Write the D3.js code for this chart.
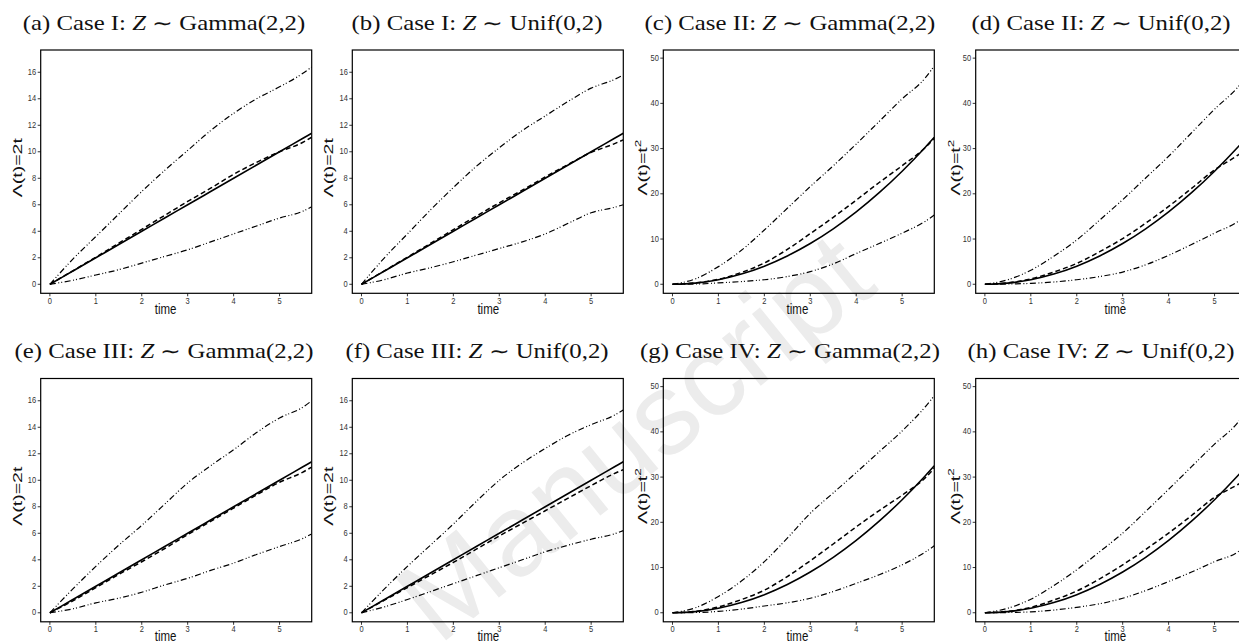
<!DOCTYPE html>
<html lang="en">
<head>
<meta charset="UTF-8">
<title>Cumulative baseline hazard estimates</title>
<script src="https://d3js.org/d3.v7.min.js"></script>
<style>
  body { margin: 0; background: #fff; }
  svg { display: block; }
</style>
</head>
<body>
<svg width="1239" height="644"></svg>
<script>
// time grid used for every curve
const times = [0, 0.5, 1, 1.5, 2, 2.5, 3, 3.5, 4, 4.5, 5, 5.5, 5.7];

// true cumulative hazards
const trueLinear = [0, 1, 2, 3, 4, 5, 6, 7, 8, 9, 10, 11, 11.4];
const trueSquare = [0, 0.25, 1, 2.25, 4, 6.25, 9, 12.25, 16, 20.25, 25, 30.25, 32.49];

// (a) Case I, Gamma
const estA = [0, 1.02, 2.05, 3.1, 4.15, 5.2, 6.25, 7.25, 8.3, 9.2, 10.0, 10.7, 11.1];
const upA  = [0, 1.9, 3.6, 5.3, 7.0, 8.6, 10.1, 11.6, 12.9, 14.0, 14.9, 15.9, 16.4];
const loA  = [0, 0.3, 0.7, 1.1, 1.6, 2.1, 2.6, 3.2, 3.8, 4.4, 5.0, 5.5, 5.85];
// (b) Case I, Unif
const estB = [0, 1.02, 2.05, 3.08, 4.12, 5.15, 6.15, 7.1, 8.1, 9.05, 9.95, 10.6, 10.9];
const upB  = [0, 2.0, 3.8, 5.6, 7.3, 8.9, 10.3, 11.6, 12.7, 13.8, 14.8, 15.45, 15.8];
const loB  = [0, 0.35, 0.85, 1.25, 1.7, 2.2, 2.7, 3.2, 3.8, 4.6, 5.4, 5.8, 6.0];
// (c) Case II, Gamma
const estC = [0, 0.3, 1.1, 2.6, 4.7, 7.7, 11.2, 14.8, 18.6, 22.5, 26.2, 30.2, 32.3];
const upC  = [0, 1.2, 3.9, 7.5, 12.0, 16.8, 21.6, 26.2, 31.0, 36.0, 41.0, 45.6, 48.3];
const loC  = [0, 0.05, 0.3, 0.6, 1.0, 1.7, 2.8, 4.5, 6.8, 9.0, 11.3, 13.9, 15.3];
// (d) Case II, Unif
const estD = [0, 0.3, 1.2, 2.7, 4.6, 7.2, 10.1, 13.5, 17.2, 21.2, 25.3, 28.5, 30.0];
const upD  = [0, 1.0, 3.1, 6.2, 9.8, 14.2, 18.7, 23.5, 28.3, 33.5, 38.7, 43.5, 46.0];
const loD  = [0, 0.05, 0.2, 0.5, 1.0, 1.7, 2.7, 4.3, 6.4, 8.8, 11.3, 13.8, 15.3];
// (e) Case III, Gamma
const estE = [0, 0.9, 1.9, 2.9, 3.85, 4.85, 5.9, 6.9, 7.9, 8.9, 9.85, 10.6, 11.0];
const upE  = [0, 1.8, 3.5, 5.1, 6.6, 8.2, 9.8, 11.1, 12.3, 13.6, 14.7, 15.5, 16.0];
const loE  = [0, 0.3, 0.75, 1.1, 1.55, 2.1, 2.6, 3.2, 3.75, 4.4, 5.0, 5.6, 5.95];
// (f) Case III, Unif
const estF = [0, 0.95, 1.9, 2.85, 3.8, 4.8, 5.8, 6.75, 7.7, 8.65, 9.6, 10.5, 10.8];
const upF  = [0, 1.8, 3.5, 5.1, 6.7, 8.4, 10.0, 11.3, 12.4, 13.4, 14.2, 14.9, 15.3];
const loF  = [0, 0.45, 1.0, 1.6, 2.2, 2.8, 3.4, 4.0, 4.6, 5.1, 5.55, 5.95, 6.2];
// (g) Case IV, Gamma
const estG = [0, 0.3, 1.3, 2.9, 5.0, 8.0, 11.5, 15.2, 19.0, 22.6, 26.0, 29.8, 32.0];
const upG  = [0, 1.1, 3.6, 7.0, 11.3, 16.5, 22.0, 26.5, 31.0, 35.6, 40.2, 45.5, 48.0];
const loG  = [0, 0.05, 0.3, 0.8, 1.5, 2.2, 3.2, 4.7, 6.5, 8.4, 10.6, 13.4, 14.8];
// (h) Case IV, Unif
const estH = [0, 0.3, 1.2, 2.8, 4.8, 7.5, 10.6, 14.0, 17.6, 21.5, 25.5, 28.3, 29.5];
const upH  = [0, 1.0, 3.0, 6.0, 9.5, 13.5, 17.6, 22.4, 27.3, 32.3, 37.3, 42.0, 44.8];
const loH  = [0, 0.05, 0.2, 0.6, 1.2, 2.0, 3.2, 4.9, 6.9, 9.0, 11.3, 13.4, 15.0];

// tick labels
const xTicks = [0, 1, 2, 3, 4, 5];
const yTicksLinear = [0, 2, 4, 6, 8, 10, 12, 14, 16];
const yTicksSquare = [0, 10, 20, 30, 40, 50];

const tags = ["(a)", "(b)", "(c)", "(d)", "(e)", "(f)", "(g)", "(h)"];
const caseNames = ["Case I", "Case I", "Case II", "Case II", "Case III", "Case III", "Case IV", "Case IV"];
const dists = ["Gamma(2,2)", "Unif(0,2)", "Gamma(2,2)", "Unif(0,2)", "Gamma(2,2)", "Unif(0,2)", "Gamma(2,2)", "Unif(0,2)"];
const estimates = [estA, estB, estC, estD, estE, estF, estG, estH];
const uppers = [upA, upB, upC, upD, upE, upF, upG, upH];
const lowers = [loA, loB, loC, loD, loE, loF, loG, loH];

const svg = d3.select("svg");

// faint watermark behind the panels
svg.append("text")
  .attr("transform", "translate(640,444) rotate(-39)")
  .attr("text-anchor", "middle")
  .attr("dominant-baseline", "middle")
  .style("font-family", "'Liberation Sans', Arial, sans-serif")
  .style("font-size", "116px")
  .style("fill", "#ececec")
  .text("Manuscript");

const colLeft = [40.7, 352.3, 663.3, 975.7];
const rowTop = [50, 378.5];
const titleX = [164, 477, 790, 1101];
const titleY = [30, 358];
const timeDy = [21, 19.5];
const timeAt = [2.52, 2.76, 2.72, 2.84];
const pw = 271, ph = 243.3;

const sans = "'Liberation Sans', Arial, Helvetica, sans-serif";
const serif = "'Liberation Serif', 'Times New Roman', serif";

svg.append("defs").selectAll("clipPath")
  .data(d3.range(8))
  .enter().append("clipPath")
  .attr("id", d => "clip" + d)
  .append("rect")
  .attr("width", pw).attr("height", ph);

d3.range(8).forEach(function(i) {
  const col = i % 4, row = Math.floor(i / 4);
  const square = col >= 2;
  const left = colLeft[col], top = rowTop[row];

  const x = d3.scaleLinear().domain([-0.2, 5.7]).range([0, pw]);
  const y = square
    ? d3.scaleLinear().domain([-2.0, 51.8]).range([ph, 0])
    : d3.scaleLinear().domain([-0.68, 17.68]).range([ph, 0]);

  const g = svg.append("g").attr("transform", `translate(${left},${top})`);

  // title, widened a little to mimic Computer Modern
  const title = svg.append("text")
    .attr("transform", `translate(${titleX[col]},${titleY[row]}) scale(1.24,1)`)
    .attr("text-anchor", "middle")
    .style("font-family", serif)
    .style("font-size", "20px")
    .style("fill", "#111");
  title.append("tspan").text(tags[i] + " " + caseNames[i] + ": ");
  title.append("tspan").style("font-style", "italic").text("Z");
  title.append("tspan").text(" \u223C " + dists[i]);

  // curves
  const line = d3.line()
    .x((d, k) => x(times[k]))
    .y(d => y(d))
    .curve(d3.curveMonotoneX);

  const plot = g.append("g").attr("clip-path", `url(#clip${i})`);
  const series = [
    { vals: square ? trueSquare : trueLinear, dash: null, w: 1.6 },
    { vals: estimates[i], dash: "5,3", w: 1.5 },
    { vals: uppers[i], dash: "6,2.5,1,2,1,2.5", w: 1.2 },
    { vals: lowers[i], dash: "6,2.5,1,2,1,2.5", w: 1.2 }
  ];
  plot.selectAll("path")
    .data(series)
    .enter().append("path")
    .attr("d", d => line(d.vals))
    .attr("fill", "none")
    .attr("stroke", "#000")
    .attr("stroke-width", d => d.w)
    .attr("stroke-dasharray", d => d.dash);

  // frame
  g.append("rect")
    .attr("width", pw).attr("height", ph)
    .attr("fill", "none")
    .attr("stroke", "#000")
    .attr("stroke-width", 1.2);

  // x axis
  g.selectAll(".xt")
    .data(xTicks)
    .enter().append("line")
    .attr("x1", d => x(d)).attr("x2", d => x(d))
    .attr("y1", ph).attr("y2", ph + 3)
    .attr("stroke", "#000").attr("stroke-width", 0.8);
  g.selectAll(".xl")
    .data(xTicks)
    .enter().append("text")
    .attr("transform", d => `translate(${x(d)},${ph + 10.5}) scale(1,1.3)`)
    .attr("text-anchor", "middle")
    .style("font-family", sans)
    .style("font-size", "7.5px")
    .style("fill", "#333")
    .text(d => d);
  g.append("text")
    .attr("transform", `translate(${x(timeAt[col])},${ph + timeDy[row]}) scale(1,1.2)`)
    .attr("text-anchor", "middle")
    .style("font-family", sans)
    .style("font-size", "11.5px")
    .style("fill", "#111")
    .text("time");

  // y axis
  const yTicks = square ? yTicksSquare : yTicksLinear;
  g.selectAll(".yt")
    .data(yTicks)
    .enter().append("line")
    .attr("x1", -3).attr("x2", 0)
    .attr("y1", d => y(d)).attr("y2", d => y(d))
    .attr("stroke", "#000").attr("stroke-width", 0.8);
  g.selectAll(".yl")
    .data(yTicks)
    .enter().append("text")
    .attr("transform", d => `translate(-4.5,${y(d) + 2.6}) scale(1,1.3)`)
    .attr("text-anchor", "end")
    .style("font-family", sans)
    .style("font-size", "7.5px")
    .style("fill", "#333")
    .text(d => d);

  // y label, stretched along its length like the reference
  const ylab = g.append("text")
    .attr("transform", `translate(${square ? -16 : -19},${ph / 2 - 4}) rotate(-90) scale(1.5,1)`)
    .attr("text-anchor", "middle")
    .style("font-family", sans)
    .style("font-size", "13px")
    .style("fill", "#111");
  if (square) {
    ylab.append("tspan").text("\u039B(t)=t");
    ylab.append("tspan").attr("dy", -6).style("font-size", "9px").text("2");
  } else {
    ylab.text("\u039B(t)=2t");
  }
});
</script>
</body>
</html>
